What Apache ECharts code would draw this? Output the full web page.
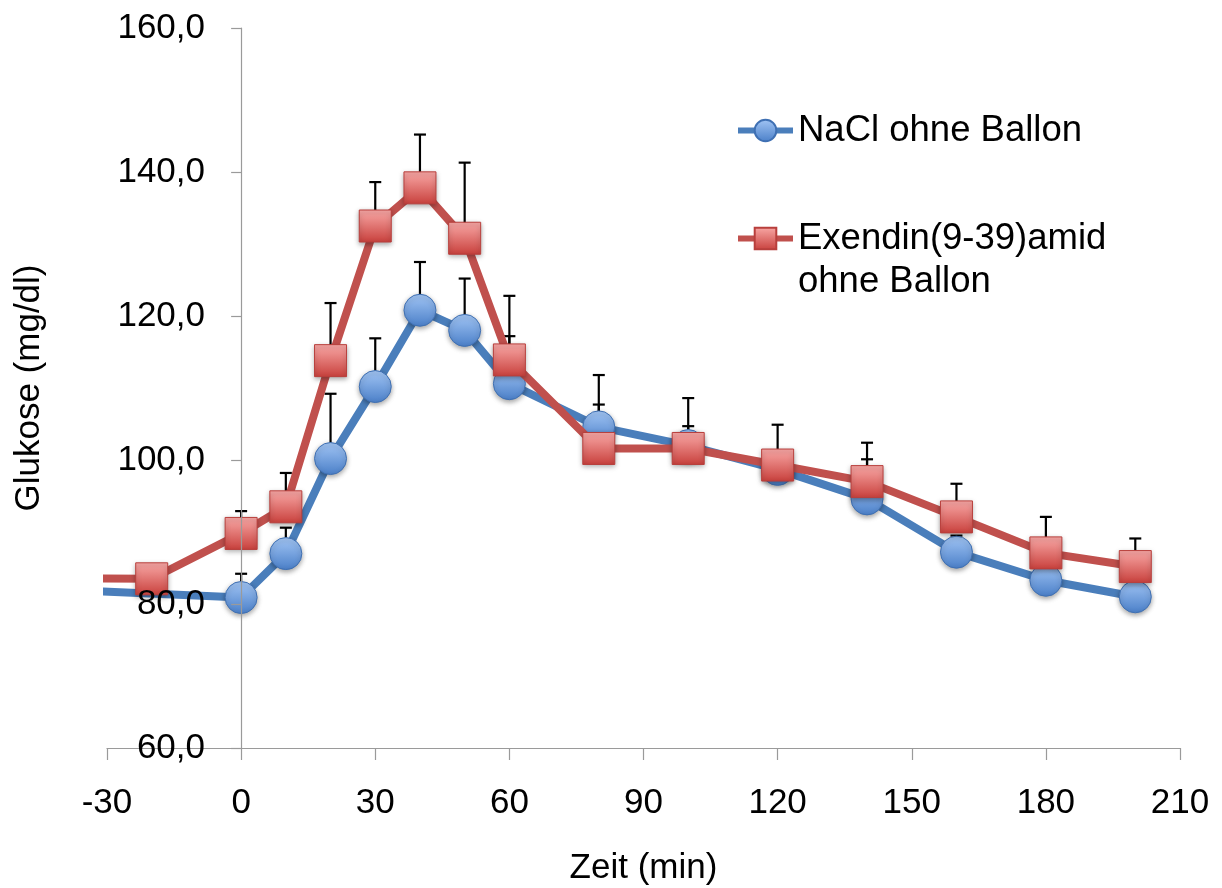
<!DOCTYPE html>
<html>
<head>
<meta charset="utf-8">
<script src="https://cdn.jsdelivr.net/npm/echarts@6/dist/echarts.min.js"></script>
<style>
html,body{margin:0;padding:0;background:#fff;}
#chart{width:1222px;height:888px;}
</style>
</head>
<body>
<div id="chart"></div>
<script>
// ---- data ----
const xTicks = { min: -30, max: 210, interval: 30 };
const yTicks = { min: 60, max: 160, interval: 20 };

const naclName = 'NaCl ohne Ballon';
const naclX   = [-40, 0, 10, 20, 30, 40, 50, 60, 80, 100, 120, 140, 160, 180, 200];
const naclY   = [82.0, 80.9, 87.0, 100.2, 110.2, 120.8, 118.0, 110.6, 104.6, 102.0, 98.7, 94.6, 87.2, 83.3, 81.0];
const naclErr = [null, 3.3, 3.6, 9.0, 6.7, 6.7, 7.2, 6.6, 3.1, 2.7, 2.3, 5.5, 2.3, 2.7, 2.5];

const exName = 'Exendin(9-39)amid ohne Ballon';
const exX   = [-40, -20, 0, 10, 20, 30, 40, 50, 60, 80, 100, 120, 140, 160, 180, 200];
const exY   = [83.6, 83.5, 89.8, 93.5, 113.8, 132.5, 137.8, 130.8, 113.9, 101.6, 101.6, 99.3, 97.0, 92.1, 87.1, 85.2];
const exErr = [null, null, 3.1, 4.7, 8.0, 6.1, 7.4, 10.5, 8.9, 10.2, 7.0, 5.6, 5.4, 4.6, 5.0, 3.9];

const xTitle = 'Zeit (min)';
const yTitle = 'Glukose (mg/dl)';

// ---- build ----
const FONT = "'Liberation Sans', Arial, sans-serif";
const pts = (xs, ys) => xs.map((x, i) => [x, ys[i]]);
const errPts = (xs, ys, es) => xs.map((x, i) => [x, ys[i], es[i]]).filter(d => d[2] != null);

function errRender(params, api) {
  const x = api.value(0), y = api.value(1), e = api.value(2);
  const p0 = api.coord([x, y]);
  const p1 = api.coord([x, y + e]);
  const hw = 6;
  const st = { stroke: '#000', lineWidth: 2.2 };
  return {
    type: 'group',
    children: [
      { type: 'line', shape: { x1: p0[0], y1: p0[1], x2: p1[0], y2: p1[1] }, style: st },
      { type: 'line', shape: { x1: p1[0] - hw, y1: p1[1], x2: p1[0] + hw, y2: p1[1] }, style: st }
    ]
  };
}

const blueGrad = new echarts.graphic.LinearGradient(0, 0, 0, 1, [
  { offset: 0, color: '#a3c6f5' }, { offset: 1, color: '#4a7fc8' }
]);
const redGrad = new echarts.graphic.LinearGradient(0, 0, 0, 1, [
  { offset: 0, color: '#f9a9a7' }, { offset: 1, color: '#c8403c' }
]);

const legendText = { fontSize: 36.5, color: '#000', fontFamily: FONT, lineHeight: 43 };

const chart = echarts.init(document.getElementById('chart'), null, { renderer: 'canvas' });
chart.setOption({
  animation: false,
  backgroundColor: '#fff',
  textStyle: { fontFamily: FONT },
  grid: { left: 107, right: 42, top: 28, bottom: 140, containLabel: false, outerBoundsMode: 'none' },
  legend: [
    {
      data: [naclName], orient: 'vertical', left: 735, top: 109, padding: 0,
      itemWidth: 55, itemHeight: 27, itemGap: 0,
      textStyle: legendText,
      lineStyle: { width: 6 }
    },
    {
      data: [exName], orient: 'vertical', left: 735, top: 174, padding: 0,
      itemWidth: 55, itemHeight: 27, itemGap: 0,
      formatter: n => ' \n' + n.replace(' ohne', '\nohne'),
      textStyle: legendText,
      lineStyle: { width: 6 }
    }
  ],
  xAxis: {
    type: 'value', min: xTicks.min, max: xTicks.max, interval: xTicks.interval,
    name: xTitle, nameLocation: 'middle', nameGap: 103,
    nameTextStyle: { fontSize: 35, color: '#000', fontFamily: FONT },
    axisLine: { lineStyle: { color: '#9a9a9a', width: 1.2 } },
    axisTick: { length: 12, lineStyle: { color: '#9a9a9a', width: 1.2 } },
    axisLabel: { fontSize: 35, color: '#000', margin: 38, fontFamily: FONT },
    splitLine: { show: false }
  },
  yAxis: {
    type: 'value', min: yTicks.min, max: yTicks.max, interval: yTicks.interval, z: 10,
    name: yTitle, nameLocation: 'middle', nameGap: 60,
    nameTextStyle: { fontSize: 35, color: '#000', fontFamily: FONT },
    axisLine: { show: true, onZero: true, lineStyle: { color: '#9a9a9a', width: 1.2 } },
    axisTick: { show: true, length: 10, lineStyle: { color: '#9a9a9a', width: 1.2 } },
    axisLabel: { fontSize: 35, color: '#000', margin: -98, fontFamily: FONT,
      formatter: v => v.toFixed(1).replace('.', ',') },
    splitLine: { show: false }
  },
  series: [
    {
      type: 'custom', name: 'errNaCl', renderItem: errRender, z: 1, clip: true,
      data: errPts(naclX, naclY, naclErr), encode: { x: 0, y: 1 }, silent: true
    },
    {
      type: 'custom', name: 'errEx', renderItem: errRender, z: 1, clip: true,
      data: errPts(exX, exY, exErr), encode: { x: 0, y: 1 }, silent: true
    },
    {
      type: 'line', name: naclName, data: pts(naclX, naclY), z: 2, clip: true,
      symbol: 'circle', symbolSize: 32, showAllSymbol: true,
      lineStyle: { color: '#4a7ebb', width: 8 },
      itemStyle: { color: blueGrad, borderColor: '#3f70b3', borderWidth: 1,
        shadowBlur: 5, shadowColor: 'rgba(0,0,0,0.35)', shadowOffsetY: 2 }
    },
    {
      type: 'line', name: exName, data: pts(exX, exY), z: 3, clip: true,
      symbol: 'rect', symbolSize: 32, showAllSymbol: true,
      lineStyle: { color: '#c0504d', width: 8 },
      itemStyle: { color: redGrad, borderColor: '#b83f3c', borderWidth: 1,
        shadowBlur: 5, shadowColor: 'rgba(0,0,0,0.35)', shadowOffsetY: 2 }
    }
  ]
});
</script>
</body>
</html>
